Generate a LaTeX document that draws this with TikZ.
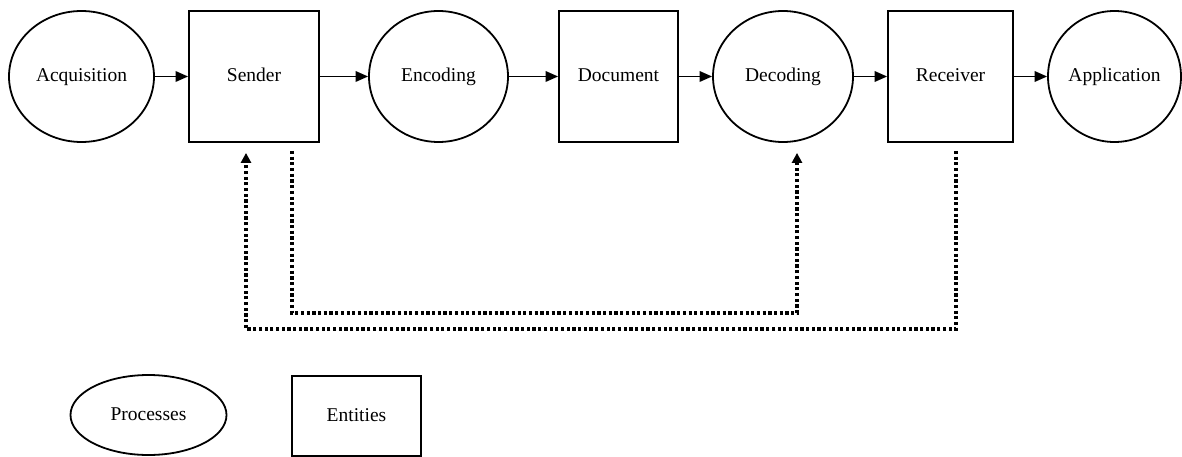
\documentclass[tikz,border=0pt]{standalone}
\usepackage{fontspec}
\setmainfont{Liberation Serif}
\usetikzlibrary{shapes.geometric,arrows.meta,calc}
\begin{document}
\begin{tikzpicture}[x=1pt,y=1pt,
  lbl/.style={font=\fontsize{19.5}{22}\selectfont,text height=14pt,text depth=4pt},
  proc/.style={lbl,ellipse,draw,line width=1.8pt,inner sep=0pt},
  ent/.style={lbl,rectangle,draw,line width=1.8pt,inner sep=0pt},
  flow/.style={line width=1.8pt,-{Triangle[length=12.5pt,width=10.5pt]}},
  fb/.style={line width=3.2pt,dash pattern=on 3.2pt off 2.5pt,line join=miter,
             -{Triangle[length=10pt,width=10pt]}}]
\useasboundingbox (0,0) rectangle (1182,-457);

% main chain
\node[proc,minimum width=145pt,minimum height=131pt] (acq) at (81.5,-76.5) {Acquisition};
\node[ent,minimum width=130pt,minimum height=131pt]  (snd) at (254,-76.5) {Sender};
\node[proc,minimum width=139pt,minimum height=131pt] (enc) at (438.5,-76.5) {Encoding};
\node[ent,minimum width=119pt,minimum height=131pt]  (doc) at (618.5,-76.5) {Document};
\node[proc,minimum width=140pt,minimum height=131pt] (dec) at (783,-76.5) {Decoding};
\node[ent,minimum width=125pt,minimum height=131pt]  (rcv) at (950.5,-76.5) {Receiver};
\node[proc,minimum width=133pt,minimum height=131pt] (app) at (1114.5,-76.5) {Application};

\draw[flow] (acq) -- (snd);
\draw[flow] (snd) -- (enc);
\draw[flow] (enc) -- (doc);
\draw[flow] (doc) -- (dec);
\draw[flow] (dec) -- (rcv);
\draw[flow] (rcv) -- (app);

% feedback paths
\coordinate (sndout) at ($(snd.south)+(38,-8)$);
\coordinate (sndin)  at ($(snd.south)+(-8,-10)$);
\coordinate (decin)  at ($(dec.south)+(14,-10)$);
\coordinate (rcvout) at ($(rcv.south)+(5.5,-8)$);

\draw[fb] (sndout) -- (sndout |- 0,-313) -- (decin |- 0,-313) -- (decin);
\draw[fb] (rcvout) -- (rcvout |- 0,-329) -- (sndin |- 0,-329) -- (sndin);

% legend
\node[proc,minimum width=156pt,minimum height=80pt] (lp) at (148.5,-415) {Processes};
\node[ent,minimum width=129pt,minimum height=80pt]  (le) at (356.5,-416) {Entities};
\end{tikzpicture}
\end{document}
